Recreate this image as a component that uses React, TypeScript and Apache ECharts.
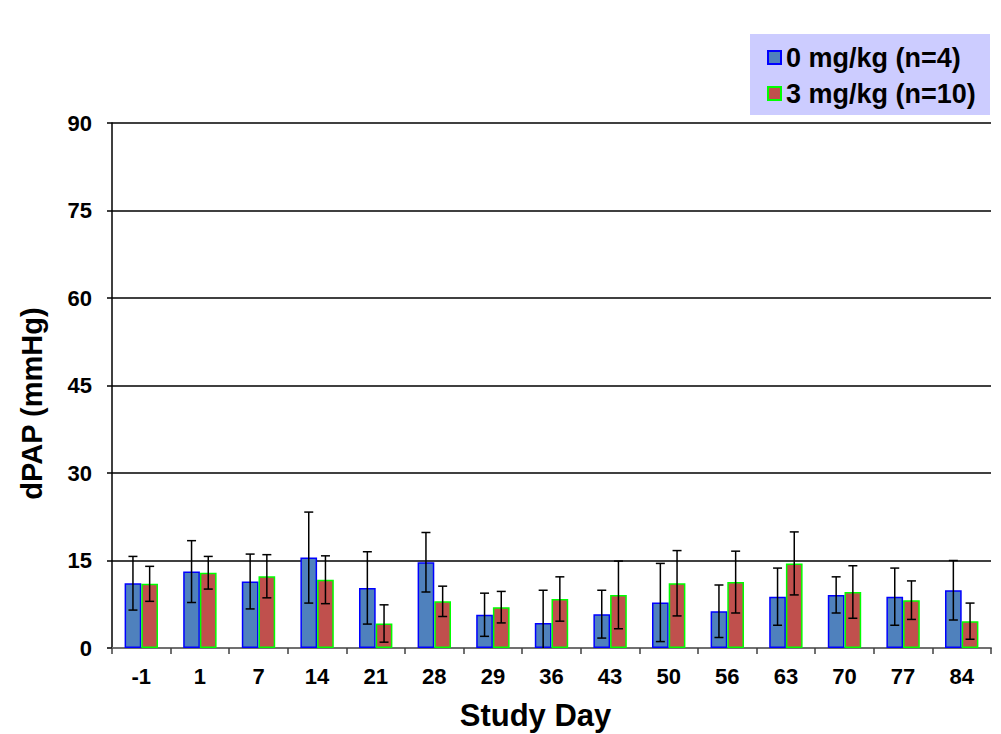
import React, { useEffect, useRef } from "react";
import * as echarts from "echarts";

const categories = ["-1", "1", "7", "14", "21", "28", "29", "36", "43", "50", "56", "63", "70", "77", "84"];
const placeboMean = [11.1, 13.1, 11.4, 15.5, 10.3, 14.7, 5.7, 4.3, 5.8, 7.8, 6.3, 8.8, 9.1, 8.8, 9.9];
const placeboSD = [4.6, 5.3, 4.7, 7.8, 6.2, 5.1, 3.7, 5.6, 4.1, 6.7, 4.5, 4.9, 3.1, 4.9, 5.1];
const treatMean = [11.0, 12.9, 12.3, 11.7, 4.2, 8.0, 7.0, 8.4, 9.1, 11.1, 11.3, 14.5, 9.6, 8.2, 4.6];
const treatSD = [3.0, 2.8, 3.7, 4.1, 3.2, 2.6, 2.7, 3.8, 5.8, 5.6, 5.3, 5.4, 4.5, 3.3, 3.1];
const yTicks = { min: 0, max: 90, interval: 15 };
const seriesNames = ["0 mg/kg (n=4)", "3 mg/kg (n=10)"];

const FONT = '"Liberation Sans", Arial, sans-serif';
const GAP = 0.43;

function errorSeries(means: number[], sds: number[], side: number) {
  return {
    type: "custom",
    silent: true,
    z: 5,
    encode: { x: 0, y: 1 },
    data: means.map((m, i) => [i, m, sds[i]]),
    renderItem: (params: any, api: any) => {
      const idx = api.value(0);
      const mean = api.value(1);
      const sd = api.value(2);
      const band = api.size([1, 0])[0];
      const barW = (band * (1 - GAP)) / 2;
      const cx = api.coord([idx, mean])[0] + (side * barW) / 2;
      const hiV = mean + sd;
      const loV = Math.max(mean - sd, 0);
      const yHi = api.coord([idx, hiV])[1];
      const yLo = api.coord([idx, loV])[1];
      const cap = 4.5;
      const style = { stroke: "#000", lineWidth: 1.5 };
      const children: any[] = [
        { type: "line", shape: { x1: cx, y1: yHi, x2: cx, y2: yLo }, style },
        { type: "line", shape: { x1: cx - cap, y1: yHi, x2: cx + cap, y2: yHi }, style },
      ];
      if (mean - sd >= 0) {
        children.push({ type: "line", shape: { x1: cx - cap, y1: yLo, x2: cx + cap, y2: yLo }, style });
      }
      return { type: "group", children };
    },
  };
}

export default function App() {
  const ref = useRef<HTMLDivElement>(null);
  useEffect(() => {
    if (!ref.current) return;
    const chart = echarts.init(ref.current, null, { renderer: "svg" });
    chart.setOption({
      animation: false,
      backgroundColor: "#fff",
      textStyle: { fontFamily: FONT },
      graphic: [
        {
          type: "rect",
          z: 0,
          shape: { x: 750, y: 34, width: 240, height: 81 },
          style: { fill: "#CCCCFF" },
        },
      ],
      legend: {
        data: seriesNames,
        orient: "vertical",
        left: 767,
        top: 44,
        icon: "rect",
        itemWidth: 13,
        itemHeight: 13,
        itemGap: 9,
        padding: 0,
        z: 10,
        textStyle: { fontFamily: FONT, fontWeight: "bold", fontSize: 27, lineHeight: 27, color: "#000" },
      },
      grid: {
        left: 112,
        right: 10,
        top: 123,
        bottom: 86,
        containLabel: false,
        outerBoundsMode: "none",
      },
      xAxis: {
        type: "category",
        data: categories,
        name: "Study Day",
        nameLocation: "middle",
        nameGap: 52,
        nameTextStyle: {
          fontFamily: FONT,
          fontWeight: "bold",
          fontSize: 31,
          color: "#000",
          padding: [0, 32, 0, 0],
        },
        axisLine: { lineStyle: { color: "#707070", width: 2 } },
        axisTick: { show: true, length: 6, lineStyle: { color: "#404040", width: 1.5 } },
        axisLabel: { fontFamily: FONT, fontWeight: "bold", fontSize: 22, color: "#000", margin: 17 },
      },
      yAxis: {
        type: "value",
        min: yTicks.min,
        max: yTicks.max,
        interval: yTicks.interval,
        name: "dPAP (mmHg)",
        nameLocation: "middle",
        nameGap: 66,
        nameTextStyle: {
          fontFamily: FONT,
          fontWeight: "bold",
          fontSize: 29,
          color: "#000",
          padding: [0, 36, 0, 0],
        },
        axisLine: { show: true, lineStyle: { color: "#000", width: 1.5 } },
        axisTick: { show: true, length: 5, lineStyle: { color: "#000", width: 1.5 } },
        splitLine: { show: true, lineStyle: { color: "#000", width: 1.5 } },
        axisLabel: { fontFamily: FONT, fontWeight: "bold", fontSize: 22, color: "#000", margin: 20 },
      },
      series: [
        {
          name: seriesNames[0],
          type: "bar",
          data: placeboMean,
          barGap: "0%",
          barCategoryGap: GAP * 100 + "%",
          itemStyle: { color: "#4F81BD", borderColor: "#0000FF", borderWidth: 1.5 },
        },
        {
          name: seriesNames[1],
          type: "bar",
          data: treatMean,
          barGap: "0%",
          barCategoryGap: GAP * 100 + "%",
          itemStyle: { color: "#C0504D", borderColor: "#00FF00", borderWidth: 1.5 },
        },
        errorSeries(placeboMean, placeboSD, -1),
        errorSeries(treatMean, treatSD, 1),
      ],
    });
    return () => chart.dispose();
  }, []);
  return <div ref={ref} style={{ position: "absolute", left: 0, top: 0, width: 1001, height: 734 }} />;
}
